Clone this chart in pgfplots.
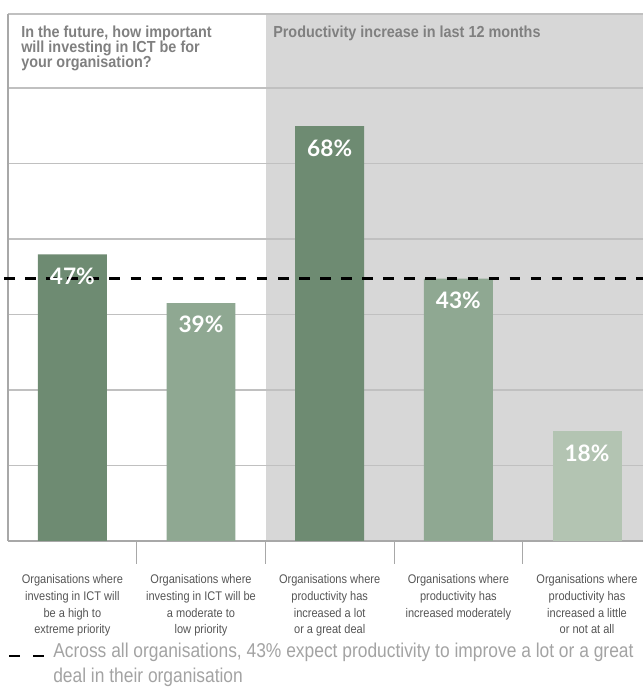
\documentclass[border=0pt]{standalone}
\usepackage{pgfplots}
\pgfplotsset{compat=1.18}
\usepackage{fontspec}
\setmainfont{Liberation Sans}
\newfontfamily\hdrfont[FakeStretch=0.9]{Liberation Sans}
\newfontfamily\lblfont[FakeStretch=0.88]{Liberation Sans}
\newfontfamily\legfont[FakeStretch=0.87]{Liberation Sans}
\newfontfamily\numfont{Lato}
\definecolor{dkgreen}{HTML}{6E8B72}
\definecolor{mdgreen}{HTML}{8FA892}
\definecolor{ltgreen}{HTML}{B3C4B2}
\definecolor{bggrey}{HTML}{D7D7D7}
\definecolor{gridgrey}{HTML}{C0C0C0}
\definecolor{axgrey}{HTML}{A8A8A8}
\definecolor{hdrgrey}{HTML}{808080}
\definecolor{lblgrey}{HTML}{555555}
\definecolor{leggrey}{HTML}{A3A3A3}
\lineskiplimit=-10pt
\begin{document}
\lineskiplimit=-10pt
\begin{tikzpicture}
\path[use as bounding box] (0,0) rectangle (482.25pt,519.75pt);
% grey panel for the productivity part
\fill[bggrey] (199.5pt,114pt) rectangle (482.25pt,509.25pt);
\begin{axis}[
  at={(6pt,114pt)}, anchor=south west,
  scale only axis, width=476.25pt, height=395.25pt,
  xmin=-0.5, xmax=4.435, ymin=0, ymax=86.39,
  clip=false,
  /pgf/number format/assume math mode=true,
  axis x line*=bottom, axis y line*=left,
  axis line style={draw=axgrey, line width=0.9pt, -},
  ymajorgrids, grid style={gridgrey, line width=1.2pt},
  ytick={12.38,24.75,37.13,49.51,61.89,74.26,86.39}, yticklabels={}, ytick style={draw=none},
  xtick={0.5,1.5,2.5,3.5}, xticklabels={},
  tick align=outside, major tick length=17pt,
  xtick style={draw=axgrey, line width=0.75pt},
  extra x ticks={0,1,2,3,4},
  extra x tick labels={
    {Organisations where\\investing in ICT will\\be a high to\\extreme priority},
    {Organisations where\\investing in ICT will be\\a moderate to\\low priority},
    {Organisations where\\productivity has\\increased a lot\\or a great deal},
    {Organisations where\\productivity has\\increased moderately},
    {Organisations where\\productivity has\\increased a little\\or not at all}},
  extra x tick style={major tick length=0pt, xmajorgrids=false,
    xticklabel style={align=center, inner sep=0pt, yshift=-25pt,
      text=lblgrey, font=\lblfont\fontsize{9.4pt}{12.5pt}\selectfont}},
  ybar, bar width=0.536, bar shift=0pt,
  nodes near coords={\pgfmathprintnumber{\pgfplotspointmeta}\%},
  nodes near coords align={anchor=north},
  every node near coord/.append style={text=white, inner sep=0pt, yshift=-9.75pt,
    font=\numfont\bfseries\fontsize{17pt}{19pt}\selectfont},
]
\addplot[fill=dkgreen, draw=none] coordinates {(0,47) (2,68)};
\addplot[fill=mdgreen, draw=none] coordinates {(1,39) (3,43)};
\addplot[fill=ltgreen, draw=none] coordinates {(4,18)};
\addplot[sharp plot, black, line width=2.3pt, dash pattern=on 7.9pt off 7.9pt, nodes near coords=\empty, forget plot]
  coordinates {(-0.53,43) (4.435,43)};
\end{axis}
% header texts
\node[anchor=north west, inner sep=0pt, align=left, text=hdrgrey,
  font=\hdrfont\bfseries\fontsize{12pt}{11.2pt}\selectfont] at (15.75pt,500.25pt)
  {In the future, how important\\will investing in ICT be for\\your organisation?};
\node[anchor=north west, inner sep=0pt, align=left, text=hdrgrey,
  font=\hdrfont\bfseries\fontsize{12pt}{11.2pt}\selectfont] at (204.75pt,500.25pt)
  {Productivity increase in last 12 months};
% legend
\draw[black, line width=2.2pt, dash pattern=on 8.25pt off 9.75pt] (6.75pt,27.75pt) -- (33pt,27.75pt);
\node[anchor=north west, inner sep=0pt, align=left, text=leggrey,
  font=\legfont\fontsize{15pt}{18.75pt}\selectfont] at (39.75pt,37.5pt)
  {Across all organisations, 43\% expect productivity to improve a lot or a great\\deal in their organisation};
\end{tikzpicture}
\end{document}
